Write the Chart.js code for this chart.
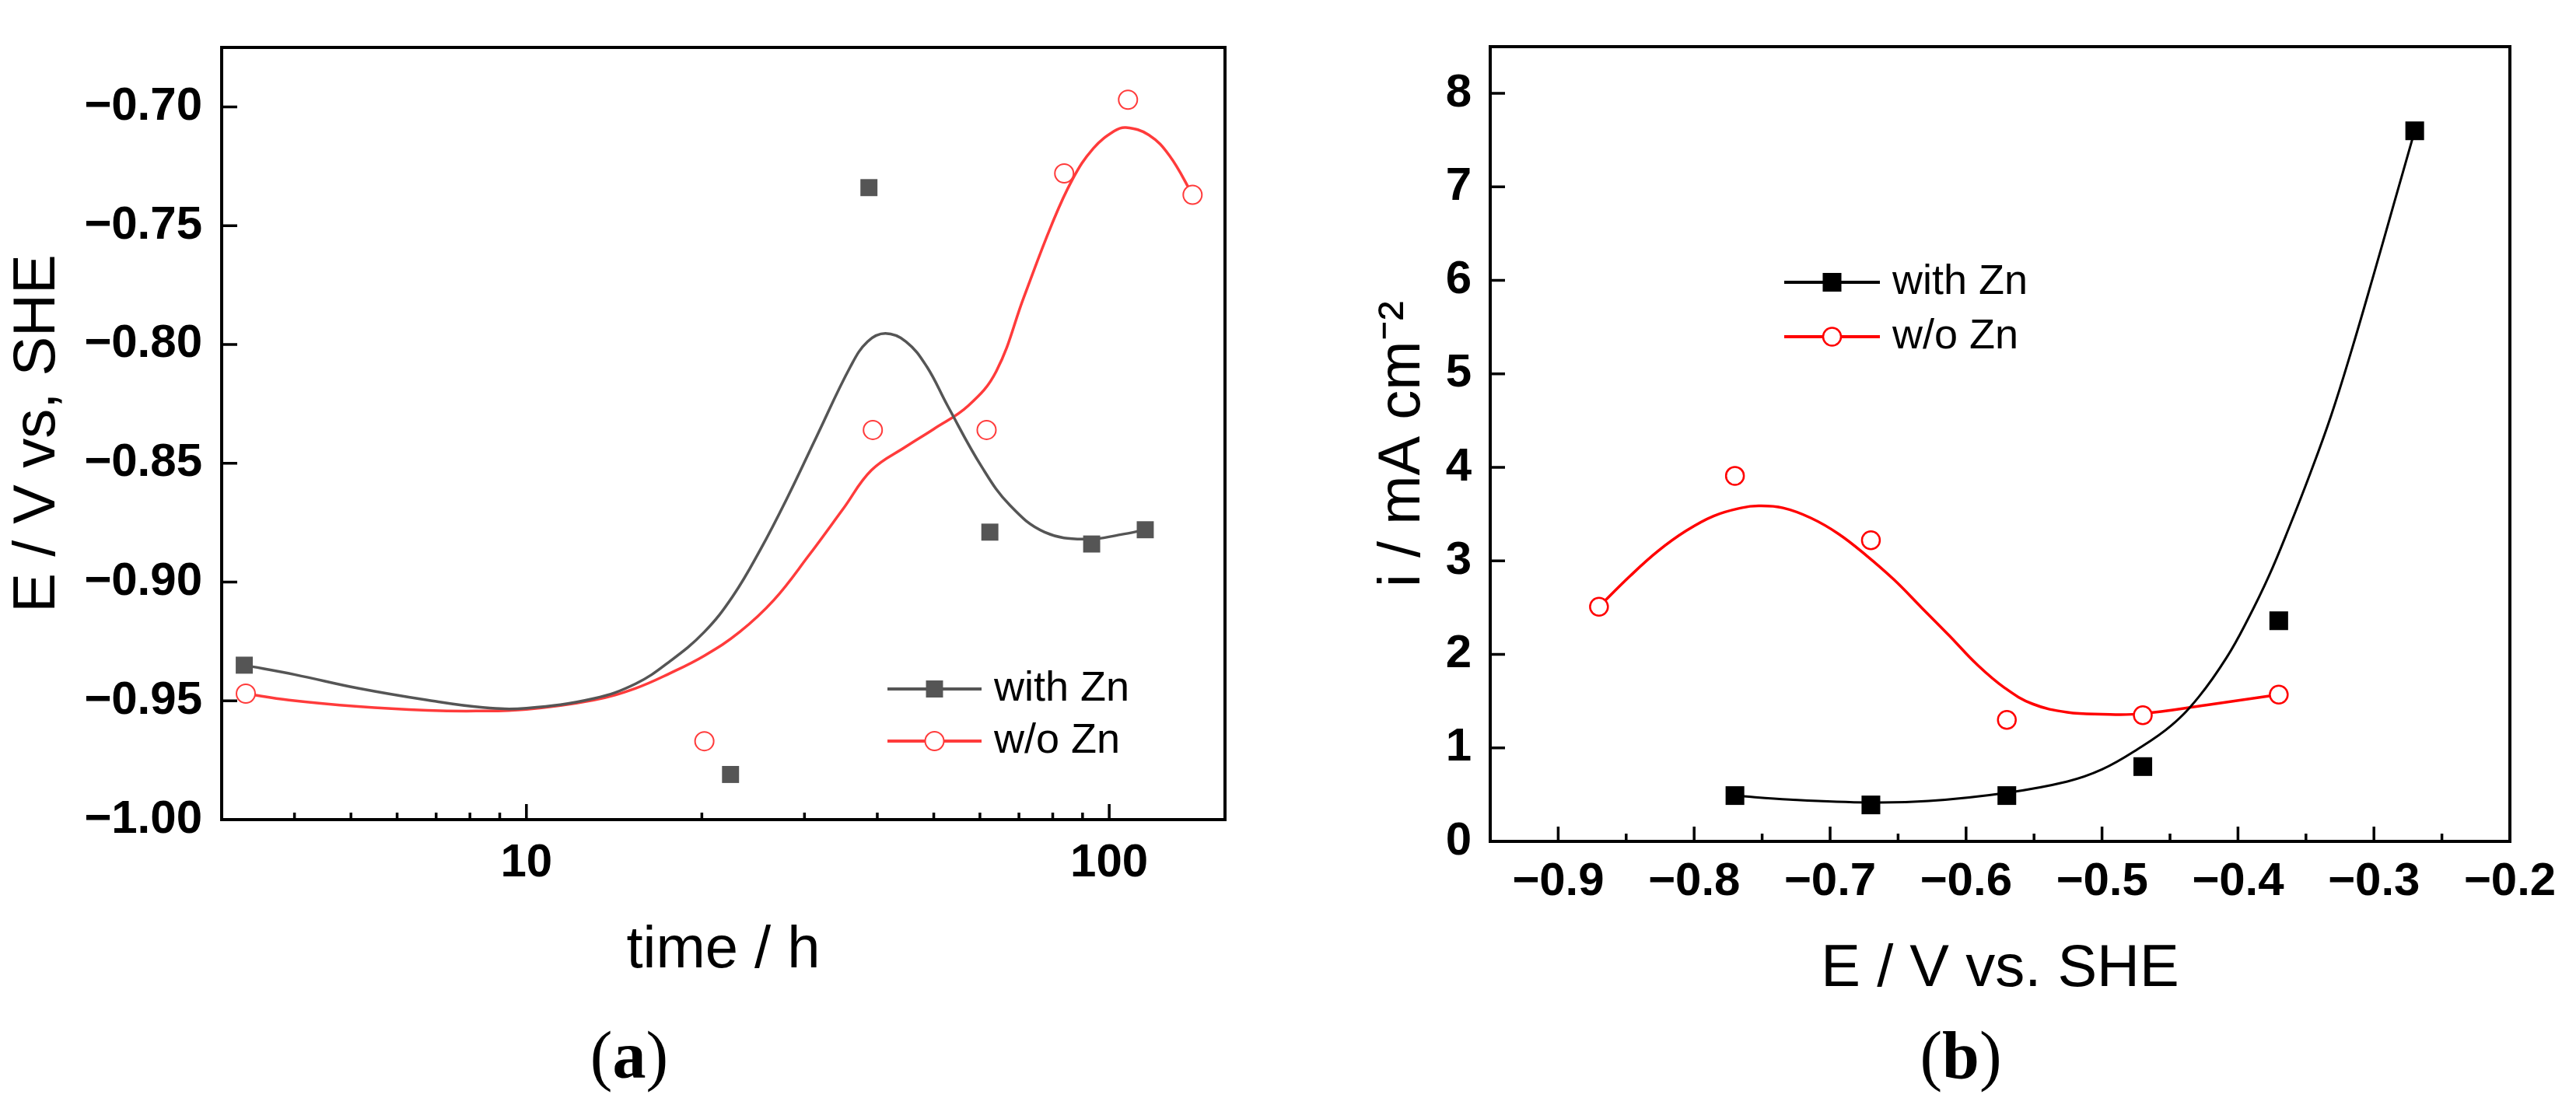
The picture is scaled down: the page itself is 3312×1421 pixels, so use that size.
<!DOCTYPE html>
<html><head><meta charset="utf-8">
<script src="https://cdn.jsdelivr.net/npm/chart.js@4.4.1/dist/chart.umd.min.js"></script>
<style>
html,body{margin:0;padding:0;background:#fff;}
body{width:3312px;height:1421px;position:relative;overflow:hidden;}
canvas{position:absolute;top:0;}
#ca{left:0;} #cb{left:1650px;}
.cap{position:absolute;top:1314px;width:200px;text-align:center;font-family:'Liberation Serif','Times New Roman',serif;font-size:86px;line-height:1;color:#000;}
</style></head><body>
<canvas id="ca" width="1650" height="1421" style="width:1650px;height:1421px"></canvas>
<canvas id="cb" width="1662" height="1421" style="width:1662px;height:1421px"></canvas>
<div class="cap" style="left:709px">(<b>a</b>)</div>
<div class="cap" style="left:2421px">(<b>b</b>)</div>
<script>
// ---------- Panel (a): potential vs time ----------
const seriesNames = ['with Zn', 'w/o Zn'];
const timeWithZn = [3.28, 22.4, 38.7, 62.4, 93.3, 115.3];
const eWithZn    = [-0.935, -0.981, -0.734, -0.879, -0.884, -0.878];
const timeWoZn   = [3.30, 20.2, 39.3, 61.6, 83.7, 107.7, 139.0];
const eWoZn      = [-0.947, -0.967, -0.836, -0.836, -0.728, -0.697, -0.737];
// smoothed curves
const curveTimeWithZn = [3.28, 4.01, 5.14, 6.76, 8.42, 10.0, 13.05, 15.4, 17.6, 20.2, 22.6, 25.2, 28.1, 31.4, 36.0, 38.5, 41.3, 44.8, 48.6, 52.8, 60.5, 67.6, 77.5, 91.4, 104.8, 115.3];
const curveEWithZn    = [-0.935, -0.939, -0.9447, -0.9497, -0.9528, -0.9531, -0.949, -0.9428, -0.9335, -0.921, -0.906, -0.8864, -0.864, -0.8393, -0.8092, -0.7988, -0.7954, -0.7988, -0.8092, -0.8258, -0.8517, -0.8678, -0.879, -0.882, -0.880, -0.878];
const curveTimeWoZn   = [3.30, 3.91, 5.14, 6.76, 8.19, 10.0, 13.05, 15.4, 17.6, 20.2, 23.2, 26.6, 30.5, 35.0, 39.1, 44.8, 50.0, 57.3, 64.0, 71.4, 79.6, 86.5, 93.9, 102.0, 106.8, 116.9, 126.9, 139.0];
const curveEWoZn      = [-0.947, -0.9497, -0.9524, -0.954, -0.9543, -0.9536, -0.9497, -0.9447, -0.9385, -0.931, -0.9211, -0.9075, -0.8889, -0.869, -0.8529, -0.843, -0.8356, -0.8258, -0.8113, -0.780, -0.7498, -0.7305, -0.7175, -0.7102, -0.7087, -0.7118, -0.7206, -0.737];
const timeTicks       = [10, 100];
const timeTickLabels  = ['10', '100'];
const timeMinorTicks  = [4, 5, 6, 7, 8, 9, 20, 30, 40, 50, 60, 70, 80, 90];
const eTicks          = [-1.00, -0.95, -0.90, -0.85, -0.80, -0.75, -0.70];
const eTickLabels     = ['\u22121.00', '\u22120.95', '\u22120.90', '\u22120.85', '\u22120.80', '\u22120.75', '\u22120.70'];

// ---------- Panel (b): current density vs potential ----------
const potWithZn = [-0.77, -0.67, -0.57, -0.47, -0.37, -0.27];
const iWithZn   = [0.49, 0.39, 0.49, 0.80, 2.36, 7.60];
const potWoZn   = [-0.87, -0.77, -0.67, -0.57, -0.47, -0.37];
const iWoZn     = [2.51, 3.91, 3.22, 1.30, 1.35, 1.57];
const curvePotWithZn = [-0.77, -0.7296, -0.671, -0.6275, -0.571, -0.5255, -0.50, -0.4745, -0.449, -0.4286, -0.4082, -0.3929, -0.3775, -0.3623, -0.347, -0.3316, -0.3163, -0.301, -0.2857, -0.27];
const curveIWithZn   = [0.49, 0.447, 0.416, 0.432, 0.518, 0.641, 0.77, 0.98, 1.24, 1.55, 1.97, 2.37, 2.83, 3.36, 3.93, 4.55, 5.26, 6.02, 6.80, 7.60];
const curvePotWoZn   = [-0.87, -0.847, -0.8266, -0.8061, -0.7857, -0.7653, -0.7526, -0.7347, -0.7143, -0.6939, -0.6735, -0.6531, -0.6327, -0.6123, -0.5918, -0.5714, -0.551, -0.5255, -0.50, -0.471, -0.4235, -0.37];
const curveIWoZn     = [2.51, 2.84, 3.105, 3.32, 3.48, 3.567, 3.588, 3.567, 3.46, 3.29, 3.06, 2.80, 2.50, 2.20, 1.89, 1.64, 1.47, 1.38, 1.36, 1.365, 1.457, 1.57];
const potTicks       = [-0.9, -0.8, -0.7, -0.6, -0.5, -0.4, -0.3, -0.2];
const potTickLabels  = ['\u22120.9', '\u22120.8', '\u22120.7', '\u22120.6', '\u22120.5', '\u22120.4', '\u22120.3', '\u22120.2'];
const potMinorTicks  = [-0.85, -0.75, -0.65, -0.55, -0.45, -0.35, -0.25];
const iTicks         = [0, 1, 2, 3, 4, 5, 6, 7, 8];
const iTickLabels    = ['0', '1', '2', '3', '4', '5', '6', '7', '8'];

const zip = (xs, ys) => xs.map((x, k) => ({x: x, y: ys[k]}));
const FONT = "'Liberation Sans', Arial, sans-serif";

const frameTicks = {
  id: 'frameTicks',
  afterDatasetsDraw(chart, args, o) {
    const ctx = chart.ctx, a = chart.chartArea, x = chart.scales.x, y = chart.scales.y;
    ctx.save();
    ctx.strokeStyle = '#000';
    ctx.lineWidth = o.tickWidth;
    ctx.beginPath();
    o.xMajor.forEach(v => { const p = x.getPixelForValue(v); ctx.moveTo(p, a.bottom); ctx.lineTo(p, a.bottom - o.majorLen); });
    o.xMinor.forEach(v => { const p = x.getPixelForValue(v); ctx.moveTo(p, a.bottom); ctx.lineTo(p, a.bottom - o.minorLen); });
    o.yMajor.forEach(v => { const p = y.getPixelForValue(v); ctx.moveTo(a.left, p); ctx.lineTo(a.left + o.majorLen, p); });
    ctx.stroke();
    ctx.lineWidth = o.frameWidth;
    ctx.strokeRect(a.left, a.top, a.right - a.left, a.bottom - a.top);
    ctx.restore();
  }
};

function drawMarker(ctx, ds, cx, cy) {
  ctx.save();
  ctx.fillStyle = ds.pointBackgroundColor;
  ctx.strokeStyle = ds.pointBorderColor;
  ctx.lineWidth = ds.pointBorderWidth;
  if (ds.pointStyle === 'rect') {
    const s = ds.pointRadius * Math.SQRT1_2;
    ctx.fillRect(cx - s, cy - s, 2 * s, 2 * s);
  } else {
    ctx.beginPath(); ctx.arc(cx, cy, ds.pointRadius, 0, 2 * Math.PI); ctx.fill(); ctx.stroke();
  }
  ctx.restore();
}

const lineLegend = {
  id: 'lineLegend',
  afterDraw(chart, args, o) {
    const ctx = chart.ctx;
    o.items.forEach(it => {
      const m = chart.data.datasets[it.marker], l = chart.data.datasets[it.line];
      ctx.save();
      ctx.strokeStyle = l.borderColor; ctx.lineWidth = o.lineWidth;
      ctx.beginPath(); ctx.moveTo(o.x0, it.y); ctx.lineTo(o.x1, it.y); ctx.stroke();
      ctx.restore();
      drawMarker(ctx, m, (o.x0 + o.x1) / 2, it.y);
      ctx.save();
      ctx.fillStyle = '#000'; ctx.font = o.fontSize + 'px ' + FONT; ctx.textBaseline = 'middle'; ctx.textAlign = 'left';
      ctx.fillText(m.label, o.textX, it.y);
      ctx.restore();
    });
  }
};

function markerSet(label, data, style, color, radius, bw) {
  return {label: label, data: data, showLine: false, pointStyle: style, pointRadius: radius,
    pointBackgroundColor: style === 'rect' ? color : '#fff', pointBorderColor: color,
    pointBorderWidth: bw, borderColor: color, backgroundColor: color, pointHoverRadius: radius};
}
function curveSet(label, data, color, width) {
  return {label: label, data: data, showLine: true, pointRadius: 0, pointHoverRadius: 0,
    borderColor: color, borderWidth: width, tension: 0.4, fill: false,
    borderCapStyle: 'round', borderJoinStyle: 'round'};
}

function baseScales(cfg) {
  return {
    x: {
      type: cfg.xType, min: cfg.xMin, max: cfg.xMax,
      afterFit: s => { s.height = cfg.xAxisH; },
      afterBuildTicks: s => { s.ticks = cfg.xTicks.map(v => ({value: v})); },
      grid: {display: false, drawTicks: false}, border: {display: false},
      ticks: {autoSkip: false, maxRotation: 0, minRotation: 0, padding: cfg.xPad, color: '#000',
        font: {family: FONT, size: 60, weight: 'bold'}, callback: (v, i) => cfg.xLabels[i]},
      title: {display: true, text: cfg.xTitle, color: '#000', font: {family: FONT, size: 76},
        padding: {top: 0, bottom: cfg.xTitlePad}}
    },
    y: {
      type: 'linear', min: cfg.yMin, max: cfg.yMax,
      afterFit: s => { s.width = cfg.yAxisW; },
      afterBuildTicks: s => { s.ticks = cfg.yTicks.map(v => ({value: v})); },
      grid: {display: false, drawTicks: false}, border: {display: false},
      ticks: {autoSkip: false, padding: cfg.yPad, color: '#000',
        font: {family: FONT, size: 60, weight: 'bold'}, callback: (v, i) => cfg.yLabels[i]},
      title: {display: true, text: cfg.yTitle, color: '#000', font: {family: FONT, size: 76},
        padding: {top: cfg.yTitlePad, bottom: 0}}
    }
  };
}

const grayA = '#555555', redA = '#ff3b3b';
new Chart(document.getElementById('ca'), {
  type: 'line',
  data: {datasets: [
    markerSet(seriesNames[0], zip(timeWithZn, eWithZn), 'rect', grayA, 15.5, 0),
    markerSet(seriesNames[1], zip(timeWoZn, eWoZn), 'circle', redA, 12, 2),
    curveSet(seriesNames[0] + ' curve', zip(curveTimeWithZn, curveEWithZn), grayA, 3.5),
    curveSet(seriesNames[1] + ' curve', zip(curveTimeWoZn, curveEWoZn), redA, 3.5)
  ]},
  options: {
    responsive: false, animation: false, devicePixelRatio: 1,
    layout: {padding: {left: 0, top: 14, right: 75, bottom: 0}},
    plugins: {
      legend: {display: false}, tooltip: {enabled: false},
      frameTicks: {xMajor: timeTicks, xMinor: timeMinorTicks, yMajor: eTicks, majorLen: 20, minorLen: 9, tickWidth: 3.5, frameWidth: 4},
      lineLegend: {x0: 1141, x1: 1262, textX: 1278, fontSize: 54, lineWidth: 4,
        items: [{marker: 0, line: 2, y: 886}, {marker: 1, line: 3, y: 953}]}
    },
    scales: baseScales({xType: 'logarithmic', xMin: 3.0, xMax: 158, xAxisH: 367, xTicks: timeTicks, xLabels: timeTickLabels,
      xPad: 20, xTitle: 'time / h', xTitlePad: 152, yMin: -1.0, yMax: -0.675, yAxisW: 285, yTicks: eTicks,
      yLabels: eTickLabels, yPad: 25, yTitle: 'E / V vs, SHE', yTitlePad: 3})
  },
  plugins: [frameTicks, lineLegend]
});

new Chart(document.getElementById('cb'), {
  type: 'line',
  data: {datasets: [
    markerSet(seriesNames[0], zip(potWithZn, iWithZn), 'rect', '#000000', 17, 0),
    markerSet(seriesNames[1], zip(potWoZn, iWoZn), 'circle', '#ff0000', 11.5, 2.5),
    curveSet(seriesNames[0] + ' curve', zip(curvePotWithZn, curveIWithZn), '#000000', 3),
    curveSet(seriesNames[1] + ' curve', zip(curvePotWoZn, curveIWoZn), '#ff0000', 3.5)
  ]},
  options: {
    responsive: false, animation: false, devicePixelRatio: 1,
    layout: {padding: {left: 0, top: 21, right: 85, bottom: 0}},
    plugins: {
      legend: {display: false}, tooltip: {enabled: false},
      frameTicks: {xMajor: potTicks, xMinor: potMinorTicks, yMajor: iTicks, majorLen: 19, minorLen: 10, tickWidth: 3.5, frameWidth: 4},
      lineLegend: {x0: 644, x1: 767, textX: 783, fontSize: 54, lineWidth: 4,
        items: [{marker: 0, line: 2, y: 363}, {marker: 1, line: 3, y: 433}]}
    },
    scales: baseScales({xType: 'linear', xMin: -0.95, xMax: -0.2, xAxisH: 339, xTicks: potTicks, xLabels: potTickLabels,
      xPad: 16, xTitle: 'E / V vs. SHE', xTitlePad: 128, yMin: 0, yMax: 8.5, yAxisW: 266, yTicks: iTicks,
      yLabels: iTickLabels, yPad: 24, yTitle: 'i / mA cm\u207B\u00B2', yTitlePad: 108})
  },
  plugins: [frameTicks, lineLegend]
});
</script>
</body></html>
